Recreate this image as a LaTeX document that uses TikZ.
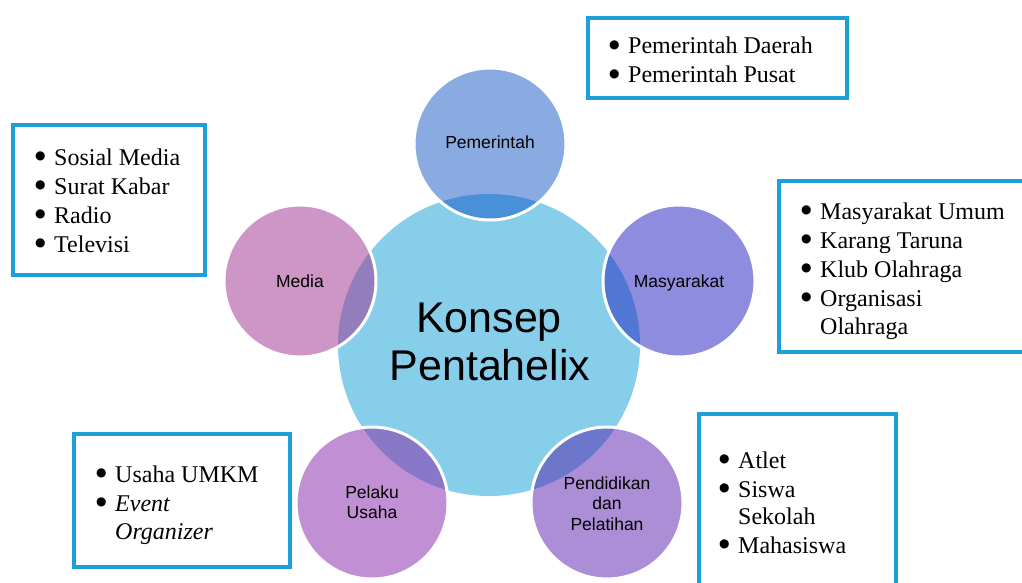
\documentclass[tikz,border=0pt]{standalone}
\usepackage{fontspec}
\setmainfont{Liberation Serif}
\newfontfamily\labfont{Liberation Sans}
\newfontfamily\symfont{DejaVu Sans}
\definecolor{cenc}{RGB}{135,206,235}
\definecolor{pemc}{RGB}{138,170,226}
\definecolor{pemo}{RGB}{74,144,216}
\definecolor{masc}{RGB}{142,140,222}
\definecolor{maso}{RGB}{82,118,211}
\definecolor{penc}{RGB}{171,142,214}
\definecolor{peno}{RGB}{108,118,203}
\definecolor{pelc}{RGB}{193,144,212}
\definecolor{pelo}{RGB}{136,120,199}
\definecolor{medc}{RGB}{206,149,199}
\definecolor{medo}{RGB}{147,125,189}
\definecolor{bordc}{RGB}{27,160,215}
\newcommand\blt{\makebox[19pt][l]{\raisebox{5.5pt}{\symfont\fontsize{12}{12}\selectfont ●}}}
\newcommand\ind{\hspace*{19pt}}
\tikzset{
  outer/.style={circle, minimum size=150pt, inner sep=0pt},
  lbl/.style={font=\labfont\fontsize{17.5}{20.5}\selectfont, inner sep=0pt, anchor=base},
  box/.style={draw=bordc, line width=4pt, fill=white, inner sep=0pt},
  lst/.style={font=\fontsize{24}{29}\selectfont, inner sep=0pt, anchor=base west},
}
\begin{document}
\begin{tikzpicture}[x=1pt,y=-1pt]
\useasboundingbox (0,0) rectangle (1022,583);
% central circle
\node[circle, minimum size=302pt, inner sep=0pt, fill=cenc] (cen) at (489,345) {};
% outer circles
\foreach \nm/\cx/\cy/\fc/\oc in {pem/490/144/pemc/pemo, mas/679/281/masc/maso, pen/607/503/penc/peno, pel/372/503/pelc/pelo, med/300/281/medc/medo}{
  \node[outer, fill=\fc] (\nm) at (\cx,\cy) {};
  \begin{scope}
    \clip (489,345) circle [radius=151pt];
    \fill[\oc] (\cx,\cy) circle [radius=75pt];
  \end{scope}
  \draw[white, line width=3pt] (\cx,\cy) circle [radius=76pt];
}
% circle labels
\node[lbl] (lpem) at (490,149) {Pemerintah};
\node[lbl] (lmas) at (679,287) {Masyarakat};
\node[lbl] (lmed) at (300,287) {Media};
\node[lbl] (lpen) at (607,489) {\begin{tabular}[t]{@{}c@{}}Pendidikan\\dan\\Pelatihan\end{tabular}};
\node[lbl] (lpel) at (372,498) {\begin{tabular}[t]{@{}c@{}}Pelaku\\Usaha\end{tabular}};
% central text
\node[font=\labfont\fontsize{43}{48}\selectfont, inner sep=0pt, anchor=base] (k1) at (489,332) {Konsep};
\node[font=\labfont\fontsize{43}{48}\selectfont, inner sep=0pt, anchor=base] (k2) at (490,380) {Pentahelix};
% boxes
\node[box, minimum width=259pt, minimum height=80pt] (b1) at (717.5,58) {};
\node[box, minimum width=192pt, minimum height=150pt] (b2) at (109,200) {};
\node[box, minimum width=251pt, minimum height=171pt] (b3) at (904.5,266.5) {};
\node[box, minimum width=197pt, minimum height=186pt] (b4) at (797.5,507) {};
\node[box, minimum width=216pt, minimum height=133pt] (b5) at (182,500.5) {};
% lists
\node[lst] (t1) at (609,54) {\begin{tabular}[t]{@{}l@{}}\blt Pemerintah Daerah\\\blt Pemerintah Pusat\end{tabular}};
\node[lst] (t2) at (35,165) {\begin{tabular}[t]{@{}l@{}}\blt Sosial Media\\\blt Surat Kabar\\\blt Radio\\\blt Televisi\end{tabular}};
\node[lst] (t3) at (801,219) {\begin{tabular}[t]{@{}l@{}}\blt Masyarakat Umum\\\blt Karang Taruna\\\blt Klub Olahraga\\\blt Organisasi\\[-1pt]\ind Olahraga\end{tabular}};
\node[lst] (t4) at (719,468) {\begin{tabular}[t]{@{}l@{}}\blt Atlet\\\blt Siswa\\[-2pt]\ind Sekolah\\\blt Mahasiswa\end{tabular}};
\node[lst] (t5) at (96,482) {\begin{tabular}[t]{@{}l@{}}\blt Usaha UMKM\\\blt \textit{Event}\\[-1pt]\ind\textit{Organizer}\end{tabular}};
\end{tikzpicture}
\end{document}
